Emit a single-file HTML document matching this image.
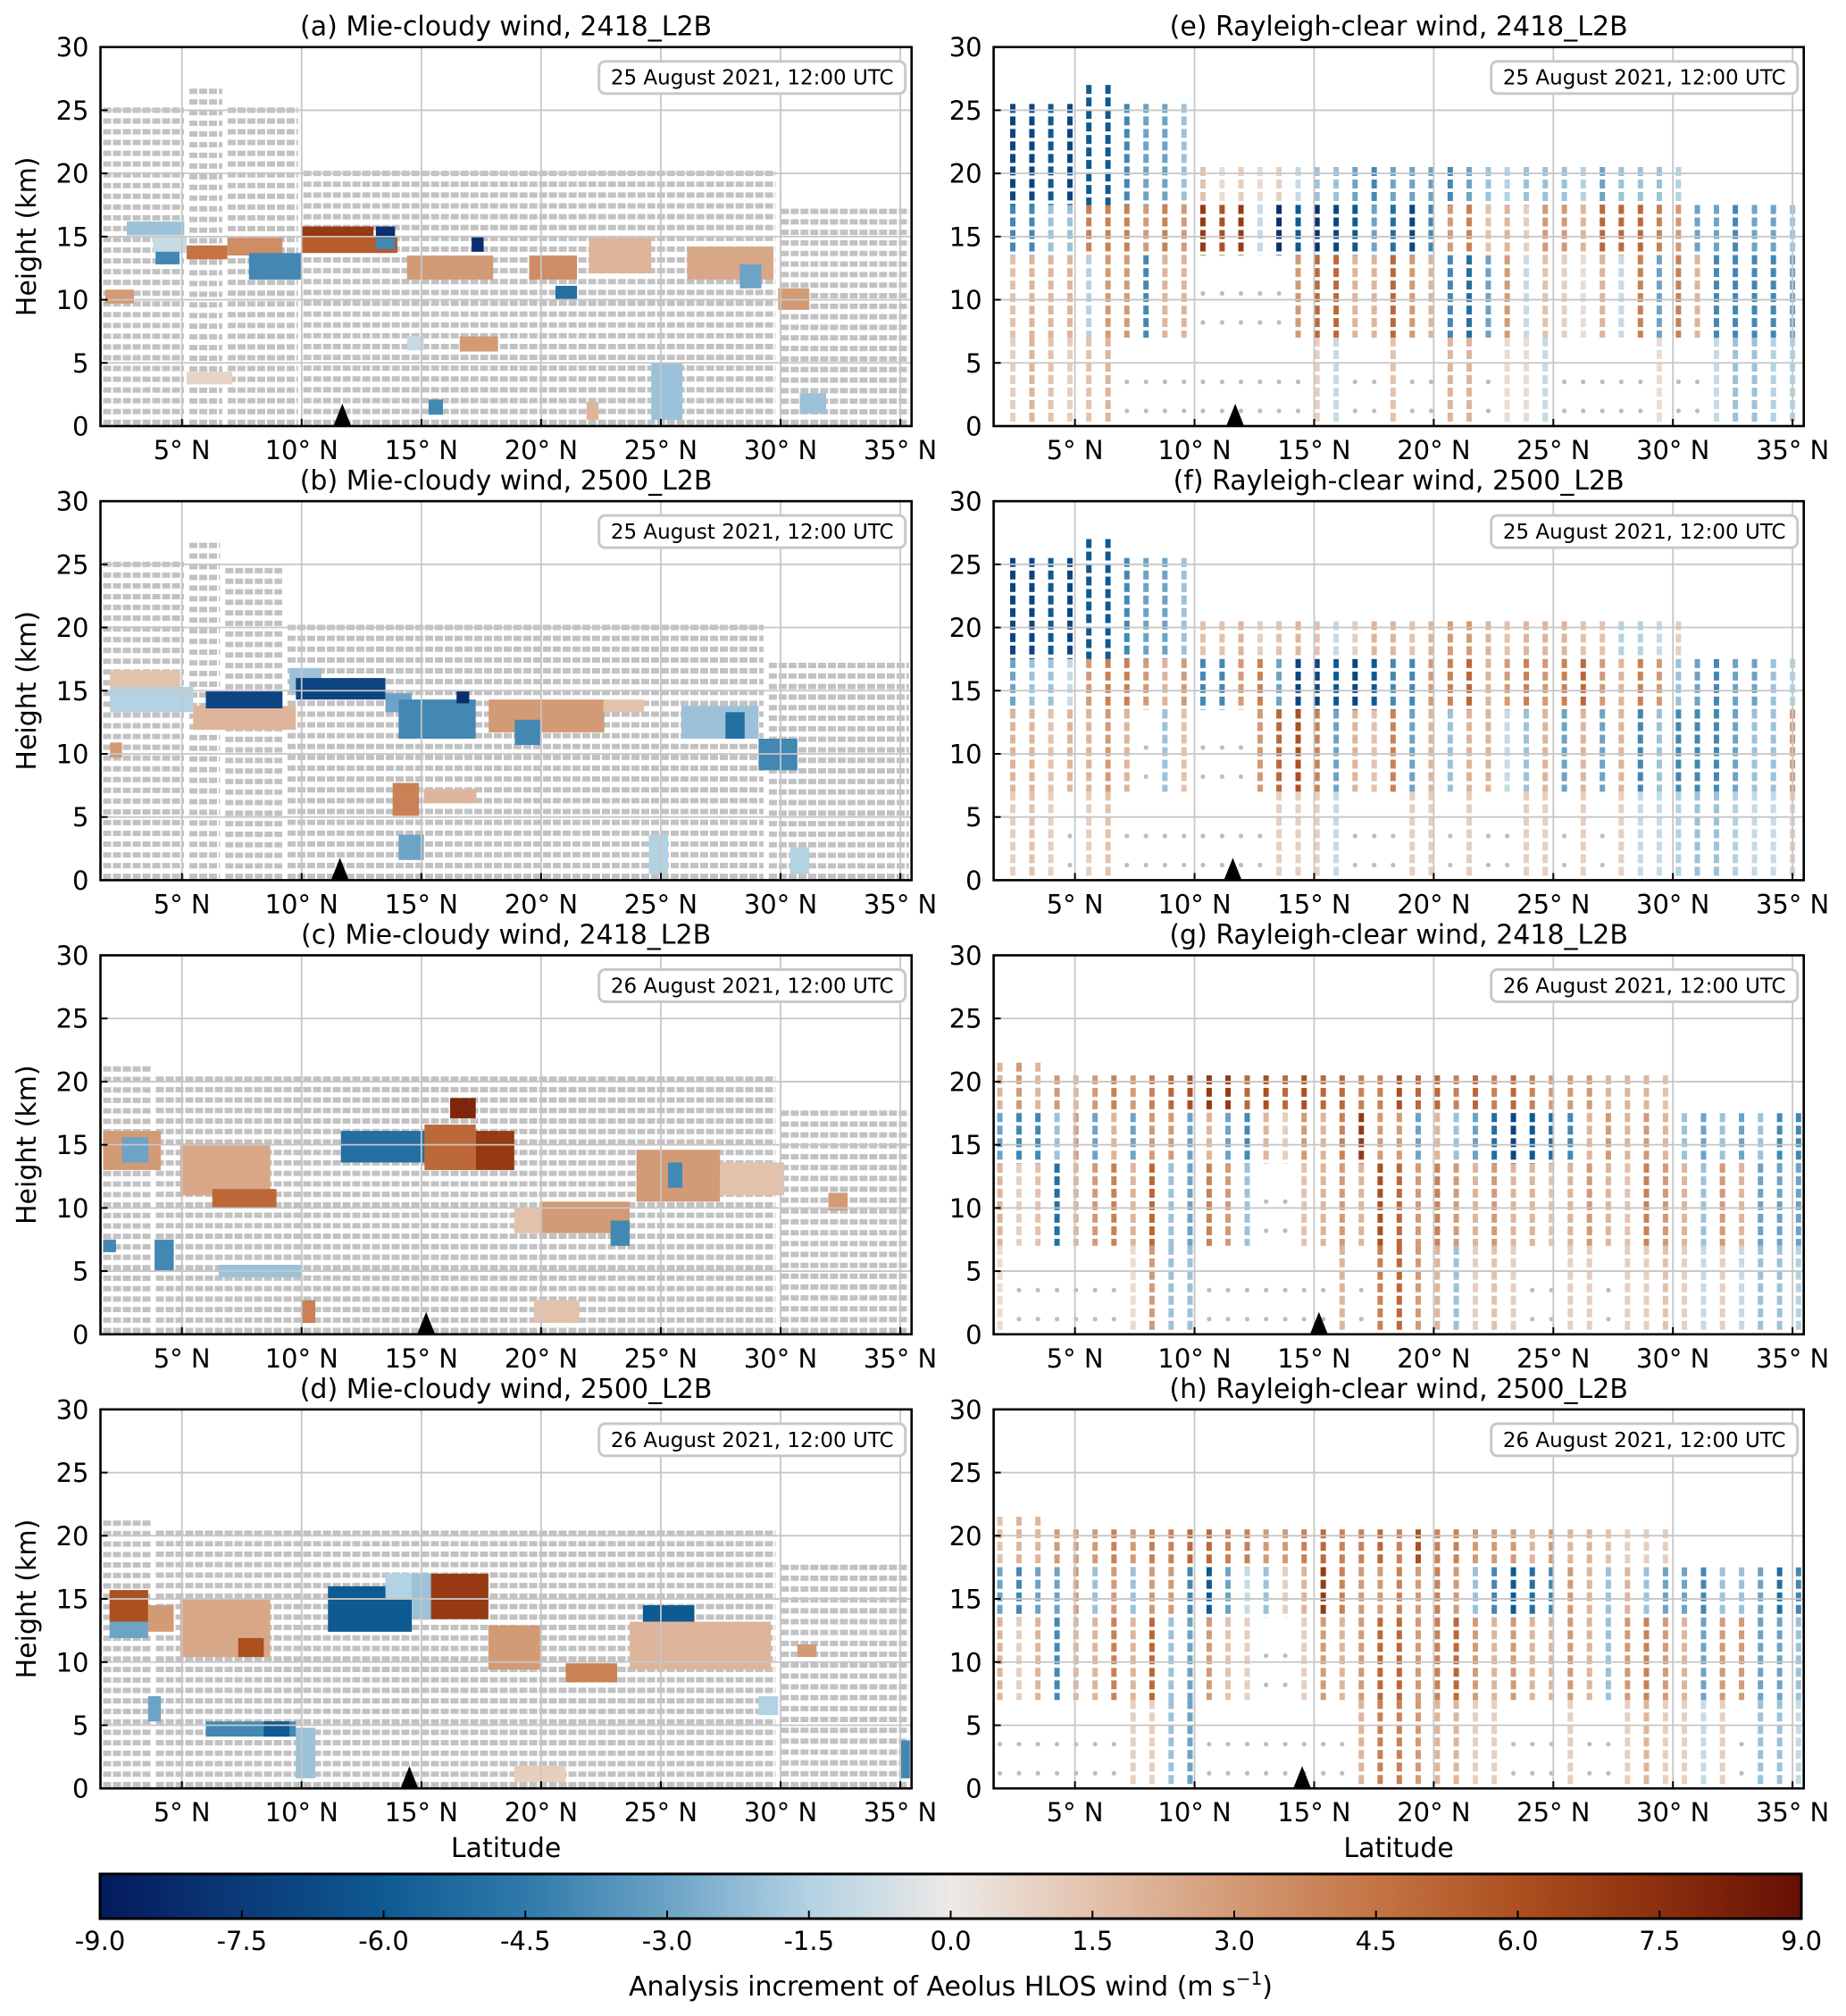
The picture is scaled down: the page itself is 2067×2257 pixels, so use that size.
<!DOCTYPE html>
<html><head><meta charset="utf-8"><title>Aeolus HLOS wind analysis increments</title>
<style>
html,body{margin:0;padding:0;background:#fff;}
svg{display:block;font-family:"DejaVu Sans","Liberation Sans",sans-serif;}
</style></head>
<body>
<svg id="fig" xmlns="http://www.w3.org/2000/svg" width="2067" height="2257" viewBox="0 0 2067 2257">
<defs>
<linearGradient id="cbgrad" x1="0" x2="1" y1="0" y2="0"></linearGradient>
</defs>
</svg>
<script>
// ---------------- DATA ----------------
const xTicks = [5,10,15,20,25,30,35];
const xTickLabels = ["5° N","10° N","15° N","20° N","25° N","30° N","35° N"];
const yTicks = [0,5,10,15,20,25,30];
const cbTicks = [-9,-7.5,-6,-4.5,-3,-1.5,0,1.5,3,4.5,6,7.5,9];
const cbTickLabels = ["-9.0","-7.5","-6.0","-4.5","-3.0","-1.5","0.0","1.5","3.0","4.5","6.0","7.5","9.0"];

// Mie gray background segments [lat0, lat1, topHeight]
const mieSegA = [[1.6,5.2,25],[5.2,6.8,26.5],[6.8,9.96,25],[9.96,29.9,20],[29.9,35.47,17]];
const mieSegB = [[1.6,5.2,25],[5.2,6.7,26.5],[6.7,9.3,24.5],[9.3,29.4,20],[29.4,35.47,17]];
const mieSegC = [[1.6,3.8,21],[3.8,29.9,20.2],[29.9,35.47,17.5]];
const mieSegD = [[1.6,3.8,21],[3.8,29.9,20.2],[29.9,35.47,17.5]];

// Mie blobs [lat0, lat1, h0, h1, value]
const mieBlobA = [
[2.7,5.1,15.1,16.2,-2],[3.8,5.2,13.7,15.0,-1],[3.9,4.9,12.8,13.8,-4],[5.2,6.9,13.2,14.3,4.5],
[6.9,9.2,13.5,14.9,3.5],[7.8,10.0,11.6,13.7,-4],[10.0,13.0,14.9,15.8,7],[10.0,14.0,13.7,15.0,5.5],
[13.1,13.9,14.9,15.8,-8],[13.1,13.9,14.0,14.9,-4],[14.4,18.0,11.6,13.5,3],[17.1,17.6,13.8,15.0,-8],
[19.5,21.5,11.6,13.5,3.5],[20.6,21.5,10.0,11.1,-5],[22.0,24.6,12.1,14.9,2],[26.1,29.7,11.6,14.2,2.5],
[28.3,29.2,10.9,12.8,-3],[29.9,31.2,9.2,10.9,3],[16.6,18.2,5.9,7.1,3],[14.4,15.1,6.0,7.1,-1],
[15.3,15.9,0.9,2.1,-4],[24.6,25.9,0.5,5.0,-2],[1.8,3.0,9.7,10.8,3],[5.2,7.1,3.3,4.3,0.8],
[30.8,31.9,1.0,2.6,-2],[21.9,22.4,0.5,1.9,2]];
const mieBlobB = [
[2.0,2.5,9.7,10.9,3],[2.0,4.93,15.3,16.6,1.5],[2.0,5.47,13.3,15.3,-1.5],[5.47,9.76,11.9,13.8,2],
[6.0,9.2,13.6,15.0,-7],[9.49,10.83,14.8,16.8,-2],[9.76,13.5,14.3,16.0,-7],[13.5,14.6,13.3,14.8,-3],
[14.05,17.27,11.2,14.3,-4],[16.47,17.0,14.0,15.0,-8],[17.81,22.64,11.7,14.3,3],[18.9,19.96,10.7,12.7,-4],
[22.6,24.3,13.3,14.3,1.5],[25.86,29.08,11.2,13.8,-2],[27.7,28.5,11.2,13.3,-5],[29.08,30.7,8.7,11.2,-4],
[13.8,14.9,5.1,7.7,4],[15.1,17.3,6.1,7.2,2],[14.05,15.1,1.6,3.6,-3],[24.5,25.3,0.5,3.6,-1.5],
[30.4,31.2,0.5,2.6,-1.5]];
const mieBlobC = [
[1.71,4.12,13.0,16.1,3],[2.5,3.6,13.6,15.6,-3],[1.71,2.25,6.5,7.5,-4],[3.86,4.66,5.0,7.5,-4],
[4.93,8.69,11.0,15.1,2.5],[6.27,8.95,10.0,11.5,5],[6.54,10.03,4.5,5.5,-2],[11.64,15.93,13.6,16.1,-5],
[15.13,17.27,13.0,16.6,5],[17.27,18.88,13.0,16.1,7],[16.2,17.27,17.1,18.7,8],[18.88,19.96,8.0,10.0,1.5],
[19.96,23.7,8.0,10.5,3],[22.9,23.7,7.0,9.0,-4],[23.98,27.47,10.5,14.6,3],[25.3,25.9,11.6,13.6,-4],
[27.47,30.15,11.0,13.6,1.5],[32.0,32.8,9.8,11.2,3],[19.7,21.6,0.9,2.7,1.5],[10.03,10.57,0.9,2.7,4]];
const mieBlobD = [
[1.98,3.59,13.2,15.7,6],[1.98,3.59,11.9,13.2,-3],[3.59,4.66,12.4,14.5,3],[4.93,8.69,10.4,15.0,2.5],
[7.35,8.42,10.4,11.9,6],[3.59,4.12,5.3,7.3,-3],[6.0,9.76,4.1,5.3,-4],[8.42,9.49,4.1,5.3,-6],
[9.76,10.57,0.8,4.8,-2],[11.1,14.6,12.4,16.0,-6],[13.5,15.1,15.0,17.0,-1.5],[15.4,17.8,13.4,17.0,7],
[14.6,15.4,13.4,17.0,-2],[17.8,19.96,9.4,12.9,3],[21.03,23.18,8.4,9.9,4],[23.7,29.6,9.4,13.2,2],
[24.25,26.4,13.2,14.5,-6],[30.7,31.5,10.4,11.4,3],[34.99,35.4,0.8,3.8,-4],[29.08,29.9,5.8,7.3,-1.5],
[18.88,21.03,0.5,1.8,1]];

// Rayleigh columns: latitudes, top heights and band values (null = no valid data)
const rayLatEF = [2.40,3.20,3.99,4.79,5.58,6.38,7.17,7.97,8.76,9.56,10.35,11.15,11.94,12.74,13.53,14.33,15.12,15.92,16.71,17.51,18.30,19.10,19.89,20.69,21.48,22.28,23.07,23.87,24.66,25.46,26.25,27.05,27.84,28.64,29.43,30.23,31.02,31.82,32.61,33.41,34.20,35.00];
const rayTopEF = [25.5,25.5,25.5,25.5,27,27,25.5,25.5,25.5,25.5,20.5,20.5,20.5,20.5,20.5,20.5,20.5,20.5,20.5,20.5,20.5,20.5,20.5,20.5,20.5,20.5,20.5,20.5,20.5,20.5,20.5,20.5,20.5,20.5,20.5,20.5,17.5,17.5,17.5,17.5,17.5,17.5];
const rayLatGH = [1.86,2.66,3.45,4.25,5.04,5.84,6.63,7.43,8.22,9.02,9.81,10.61,11.40,12.20,12.99,13.79,14.58,15.38,16.17,16.97,17.76,18.56,19.35,20.15,20.94,21.74,22.53,23.33,24.12,24.92,25.71,26.51,27.30,28.10,28.89,29.69,30.48,31.28,32.07,32.87,33.66,34.46,35.25];
const rayTopGH = [21.5,21.5,21.5,20.5,20.5,20.5,20.5,20.5,20.5,20.5,20.5,20.5,20.5,20.5,20.5,20.5,20.5,20.5,20.5,20.5,20.5,20.5,20.5,20.5,20.5,20.5,20.5,20.5,20.5,20.5,20.5,20.5,20.5,20.5,20.5,20.5,17.5,17.5,17.5,17.5,17.5,17.5,17.5];

const rayE1 = [-7,-7,-6,-7,-6,-6,-4,-3,-3,-2,1.5,0.5,1,0.5,1,-1,-2,-2,-3,-4,-3,-3,-3,-4,-3,-2,-1.5,-2,-2,-2,-1.5,-3,-2,-2,-2,-1.5,1,1,1,1,0.5,null];
const rayE2 = [-4,-4,-2,-2,4,4,4,3,4,3,7,6,7,-1,-8,-6,-8,-7,-6,-3,-5,-7,-4,3,4,1.5,2,1,3,3,2,5,5,5,4,3,-3,-3,-4,-3,-3,-2];
const rayE3 = [1.5,2,2,2,-1.5,3,3,-4,2,2,null,null,null,null,null,3,5,5,2,2,5,3,2,-4,-5,-3,3,-1,1.5,1,0.5,2,-1,4,-3,4,2,-4,-4,-4,-4,-3];
const rayE4 = [1,2,1.5,1,1.5,2,null,null,null,null,null,null,null,null,null,null,1,-1,null,null,1.5,null,null,2,2,null,0.5,0.5,-1,null,null,null,null,null,0.5,null,null,-1,-2,-2,-1.5,-1.5];

const rayF1 = [-7,-7,-6,-7,-6,-6,-4,-3,-3,-2,1.5,1.5,2,1,1.5,2,1.5,-1,1,2,2,1.5,2,3,3,2,1.5,2,2,2,1.5,1.5,-1.5,-1.5,-1,1,1,1,1,1,0.5,1];
const rayF2 = [-3,-2,-2,-1,3,4,4,3,2,3,-4,-4,3,4,-3,-7,-7,-6,-7,-6,-4,-4,3,4,5,2,3,4,3,4,5,3,2,4,3,-2,-3,-4,-3,-3,-2,-1.5];
const rayF3 = [2,2,1.5,2,2,3,2,null,-2,1.5,null,null,null,3,5,6,4,-3,2,1.5,4,-3,2,-2,2,2,-1,-2,2,-3,2,-3,2,-4,-2,-4,-4,-4,-3,-2,-2,3];
const rayF4 = [1,1.5,1,null,1,1.5,null,null,null,null,null,null,null,null,1,1,1,-1,null,null,null,1,1,null,1,null,null,1,1,null,1,null,1,-1,-1,-1.5,-2,-2,-1.5,-1,-1,1];

const rayG1 = [2,3,2,3,2,3,4,3,4,5,6,7,7,5,6,5,6,5,5,4,4,6,5,5,4,5,4,5,4,3,3,3,2,2,2,1.5,1,1,1,1,1,1,1];
const rayG2 = [-3,-4,-4,-2,3,-3,2,-3,3,3,-3,2,-3,-4,2,1,3,2,4,7,3,3,-3,2,-2,-3,-5,-7,-6,-5,-4,2,3,2,3,2,-2,-3,-2,-3,-2,-4,-4];
const rayG3 = [2,1,1.5,-5,2,3,4,2,5,-2,-3,4,3,-2,null,null,1.5,2,3,2,6,5,3,4,3,2,3,2,2,1.5,2,3,2,1.5,4,3,2,-2,3,2,-3,-3,-3];
const rayG4 = [0.5,null,null,null,null,null,null,0.5,3,-2,-2,null,null,null,null,null,null,null,2,null,4,5,3,2,-2,1,1.5,1,null,null,1,1,null,1,1,1.5,1,-1,1,-1,-2,-2,-1.5];

const rayH1 = [1.5,2,2,3,3,3,4,3,4,4,5,5,4,4,3,3,4,5,4,4,5,4,6,4,4,3,3,3,2,3,2,2,1.5,1,1,1,1,1,1,1,1,1,1];
const rayH2 = [-3,-4,-3,-3,3,-2,3,-2,3,3,-4,-6,-3,-1,-2,1,2,7,4,3,3,4,3,4,3,-2,-4,-6,-5,-4,3,2,-2,2,-2,-3,-3,-4,-2,-2,-3,-5,-4];
const rayH3 = [2,1,2,-4,2,2,4,2,5,-2,-3,3,1.5,1,null,null,1,3,2,3,5,5,3,4,5,3,2,3,2,2,3,2,-2,3,4,3,2,-3,3,3,-3,-3,-2];
const rayH4 = [null,null,null,null,null,null,null,1,1,-2,-3,null,null,null,null,null,null,null,null,2,4,4,3,2,2,1,1,null,null,null,1,null,null,1,2,1,1,-1,1,null,-2,-2,-1];

const triLat = [11.7, 11.6, 15.2, 14.5];

// colormap stops
const cmV = [-9,-7.5,-6,-4.5,-3,-1.5,0,1.5,3,4.5,6,7.5,9];
const cmC = ["#041a5c","#0b3a78","#0e5a93","#2f7aaa","#6ca3c6","#b3d2e3","#ece9e6","#e3c2ac","#d39a76","#c47444","#ac5020","#8b2f0e","#661005"];

// ---------------- DRAWING ----------------
const NS = "http://www.w3.org/2000/svg";
const svg = document.getElementById("fig");
function mk(tag, attrs, parent){
  const e = document.createElementNS(NS, tag);
  for (const k in attrs) e.setAttribute(k, attrs[k]);
  (parent||svg).appendChild(e);
  return e;
}
function hex2rgb(h){return [parseInt(h.substr(1,2),16),parseInt(h.substr(3,2),16),parseInt(h.substr(5,2),16)];}
function cmap(v){
  if (v<=cmV[0]) return cmC[0];
  if (v>=cmV[cmV.length-1]) return cmC[cmC.length-1];
  for (let i=0;i<cmV.length-1;i++){
    if (v>=cmV[i] && v<=cmV[i+1]){
      const t=(v-cmV[i])/(cmV[i+1]-cmV[i]);
      const a=hex2rgb(cmC[i]), b=hex2rgb(cmC[i+1]);
      return "rgb("+a.map((c,j)=>Math.round(c+(b[j]-c)*t)).join(",")+")";
    }
  }
}

const LAT0 = 1.6, LAT1 = 35.47;
const cols = {L:[112.5,1020.7], R:[1112.6,2019.7]};
const tops = [52.7, 561.1, 1069.5, 1577.9];
const PH = 424.3;

const panels = [
 {col:"L",row:0,title:"(a) Mie-cloudy wind, 2418_L2B",date:"25 August 2021, 12:00 UTC",type:"mie",seg:mieSegA,blob:mieBlobA,id:"a"},
 {col:"L",row:1,title:"(b) Mie-cloudy wind, 2500_L2B",date:"25 August 2021, 12:00 UTC",type:"mie",seg:mieSegB,blob:mieBlobB,id:"b"},
 {col:"L",row:2,title:"(c) Mie-cloudy wind, 2418_L2B",date:"26 August 2021, 12:00 UTC",type:"mie",seg:mieSegC,blob:mieBlobC,id:"c"},
 {col:"L",row:3,title:"(d) Mie-cloudy wind, 2500_L2B",date:"26 August 2021, 12:00 UTC",type:"mie",seg:mieSegD,blob:mieBlobD,id:"d"},
 {col:"R",row:0,title:"(e) Rayleigh-clear wind, 2418_L2B",date:"25 August 2021, 12:00 UTC",type:"ray",lat:rayLatEF,top:rayTopEF,b:[rayE1,rayE2,rayE3,rayE4],id:"e"},
 {col:"R",row:1,title:"(f) Rayleigh-clear wind, 2500_L2B",date:"25 August 2021, 12:00 UTC",type:"ray",lat:rayLatEF,top:rayTopEF,b:[rayF1,rayF2,rayF3,rayF4],id:"f"},
 {col:"R",row:2,title:"(g) Rayleigh-clear wind, 2418_L2B",date:"26 August 2021, 12:00 UTC",type:"ray",lat:rayLatGH,top:rayTopGH,b:[rayG1,rayG2,rayG3,rayG4],id:"g"},
 {col:"R",row:3,title:"(h) Rayleigh-clear wind, 2500_L2B",date:"26 August 2021, 12:00 UTC",type:"ray",lat:rayLatGH,top:rayTopGH,b:[rayH1,rayH2,rayH3,rayH4],id:"h"}
];

panels.forEach(p=>{
  const x0=cols[p.col][0], x1=cols[p.col][1];
  const y0=tops[p.row], y1=y0+PH;
  const xs = lat => x0 + (lat-LAT0)*(x1-x0)/(LAT1-LAT0);
  const ys = h => y1 - h*PH/30;

  const g = mk("g",{});
  
  
  const cp = mk("clipPath",{id:"clip"+p.id}, g);
  mk("rect",{x:x0,y:y0,width:x1-x0,height:PH},cp);
  const data = mk("g",{"clip-path":"url(#clip"+p.id+")"}, g);
  
  

  if (p.type==="mie"){
    p.seg.forEach(s=>{
      const n = Math.round(s[2]/0.82);
      for (let i=0;i<n;i++){
        const h = s[2] - i*(s[2]-0.3)/(n-1);
        const ln = mk("line",{x1:xs(s[0])+3,x2:xs(s[1])-3,y1:ys(h),y2:ys(h),stroke:"#c2c2c2","stroke-width":6,"stroke-dasharray":"9 2"},data);
        
        
      }
    });
    p.blob.forEach(b=>{
      const r = mk("rect",{x:xs(b[0]),y:ys(b[3]),width:xs(b[1])-xs(b[0]),height:ys(b[2])-ys(b[3]),fill:cmap(b[4])},data);
      
      
    });
  } else {
    const bandLo = [17.5,13.5,7,0];
    p.lat.forEach((la,k)=>{
      const x = xs(la);
      for (let j=0;j<4;j++){
        const hi = j===0 ? p.top[k] : bandLo[j-1];
        const lo = bandLo[j];
        if (hi<=lo) continue;
        const v = p.b[j][k];
        if (v===null || v===undefined){
          if (j>=2){
            [lo+1.2, lo+3.5].forEach(hh=>{
              const c = mk("circle",{cx:x,cy:ys(hh),r:2.6,fill:"#bdbdbd"},data);
              
              
            });
          }
          continue;
        }
        const ln = mk("line",{x1:x,x2:x,y1:ys(hi),y2:ys(lo),stroke:cmap(v),"stroke-width":6,"stroke-dasharray":"10 4"},data);
        
        
      }
    });
  }

  // grid
  xTicks.forEach(t=>{
    const l=mk("line",{x1:xs(t),x2:xs(t),y1:y0,y2:y1,stroke:"#c6c6c6","stroke-width":1.8},g);
    
    
  });
  yTicks.forEach(t=>{
    const l=mk("line",{x1:x0,x2:x1,y1:ys(t),y2:ys(t),stroke:"#c6c6c6","stroke-width":1.8},g);
    
    
  });

  // triangle marker
  const tx = xs(triLat[p.row]);
  const tri = mk("polygon",{points:(tx-10)+","+y1+" "+(tx+10)+","+y1+" "+tx+","+(y1-25),fill:"#000"},g);
  
  

  // spines
  const sp = mk("rect",{x:x0,y:y0,width:x1-x0,height:PH,fill:"none",stroke:"#000","stroke-width":2.6},g);
  
  

  // ticks + labels
  xTicks.forEach((t,i)=>{
    const tk=mk("line",{x1:xs(t),x2:xs(t),y1:y1,y2:y1-8,stroke:"#000","stroke-width":2},g);
    
    
    const tl=mk("text",{x:xs(t),y:y1+37,"font-size":29,"text-anchor":"middle",fill:"#000"},g);
    tl.textContent = xTickLabels[i];
    
    
  });
  yTicks.forEach(t=>{
    const tk=mk("line",{x1:x0,x2:x0+8,y1:ys(t),y2:ys(t),stroke:"#000","stroke-width":2},g);
    
    
    const tl=mk("text",{x:x0-13,y:ys(t)+10.5,"font-size":29,"text-anchor":"end",fill:"#000"},g);
    tl.textContent = String(t);
    
    
  });

  // title
  const tt = mk("text",{x:(x0+x1)/2,y:y0-13,"font-size":30,"text-anchor":"middle",fill:"#000"},g);
  tt.textContent = p.title;
  
  

  // date legend box
  const lb = mk("rect",{x:x1-350,y:y0+16,width:343,height:36,rx:7,fill:"#fff",stroke:"#c8c8c8","stroke-width":3},g);
  
  
  const lt = mk("text",{x:x1-178.5,y:y0+42,"font-size":23,"text-anchor":"middle",fill:"#000"},g);
  lt.textContent = p.date;
  
  

  if (p.col==="L"){
    const yl = mk("text",{x:0,y:0,"font-size":30,"text-anchor":"middle",fill:"#000",transform:"translate(40,"+((y0+y1)/2)+") rotate(-90)"},g);
    yl.textContent = "Height (km)";
    
    
  }
  if (p.row===3){
    const xl = mk("text",{x:(x0+x1)/2,y:2079,"font-size":30,"text-anchor":"middle",fill:"#000"},g);
    xl.textContent = "Latitude";
    
    
  }
});

// colorbar
const grad = document.getElementById("cbgrad");
cmV.forEach((v,i)=>{
  mk("stop",{offset:((v-cmV[0])/(cmV[cmV.length-1]-cmV[0])*100)+"%","stop-color":cmC[i]},grad);
});
const cbx0=112, cbx1=2017, cby0=2098, cby1=2148;
const cb = mk("g",{});


const cbr = mk("rect",{x:cbx0,y:cby0,width:cbx1-cbx0,height:cby1-cby0,fill:"url(#cbgrad)",stroke:"#000","stroke-width":3},cb);


const cxs = v => cbx0 + (v-cbTicks[0])/(cbTicks[cbTicks.length-1]-cbTicks[0])*(cbx1-cbx0);
cbTicks.forEach((v,i)=>{
  const tk=mk("line",{x1:cxs(v),x2:cxs(v),y1:cby1,y2:cby1-9,stroke:"#000","stroke-width":2},cb);
  
  
  const tl=mk("text",{x:cxs(v),y:2183,"font-size":29,"text-anchor":"middle",fill:"#000"},cb);
  tl.textContent = cbTickLabels[i];
  
  
});
const cbl = mk("text",{x:(cbx0+cbx1)/2,y:2234,"font-size":30,"text-anchor":"middle",fill:"#000"},cb);
cbl.innerHTML = 'Analysis increment of Aeolus HLOS wind (m s<tspan baseline-shift="super" font-size="20">−1</tspan>)';


</script>
</body></html>
